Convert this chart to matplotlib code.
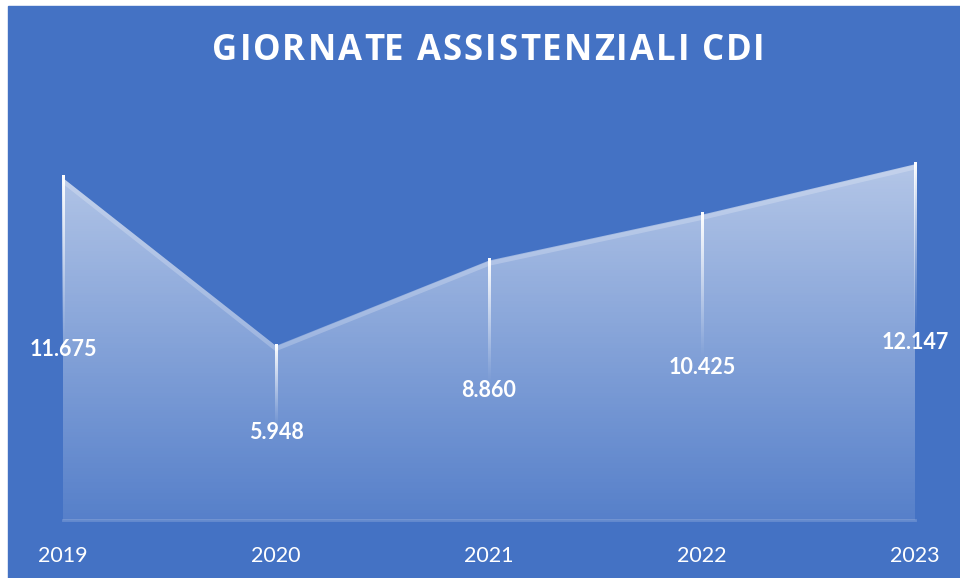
import numpy as np
import matplotlib
matplotlib.use("Agg")
import matplotlib.pyplot as plt
from matplotlib.patches import Rectangle, Polygon
import matplotlib.transforms as mtransforms

years = ["2019", "2020", "2021", "2022", "2023"]
values = [11675, 5948, 8860, 10425, 12147]
value_labels = ["11.675", "5.948", "8.860", "10.425", "12.147"]
title = "GIORNATE ASSISTENZIALI CDI"

BG = "#4472C4"
W, H = 960, 578
fig = plt.figure(figsize=(W / 100, H / 100), dpi=100, facecolor="white")
fig.add_artist(Rectangle((8 / W, 0), (W - 8) / W, (H - 6) / H,
                         transform=fig.transFigure, color=BG, zorder=0))

left, right = 63, 915
ytop, ybot = 110, 520
ax = fig.add_axes([left / W, (H - ybot) / H, (right - left) / W, (ybot - ytop) / H])
ax.set_facecolor("none")
ax.patch.set_alpha(0)
ymax = 14000
ax.set_xlim(0, len(years) - 1)
ax.set_ylim(0, ymax)
for s in ax.spines.values():
    s.set_visible(False)
ax.set_yticks([])
x = np.arange(len(years))
ax.set_xticks(x)
ax.set_xticklabels(years, color="white", fontsize=15.5, family="Lato")
ax.tick_params(axis="x", length=0, pad=19)

# gradient fill
vtop = max(values)
n = 400
yy = np.linspace(0, vtop, n)
alpha = 0.10 + 0.50 * (yy / vtop)
img = np.ones((n, 2, 4))
img[:, :, 3] = alpha[:, None]
poly_xy = [(0, 0)] + list(zip(x, values)) + [(x[-1], 0)]
poly = Polygon(poly_xy, closed=True, transform=ax.transData, facecolor="none", edgecolor="none")
ax.add_patch(poly)
im = ax.imshow(img, extent=(0, x[-1], 0, vtop), origin="lower", aspect="auto",
               interpolation="bilinear", zorder=1)
im.set_clip_path(poly)

# edge highlight
off = mtransforms.offset_copy(ax.transData, fig=fig, x=0, y=-3, units="dots")
ax.plot(x, values, color="white", alpha=0.22, lw=3.2, transform=off, zorder=2,
        solid_capstyle="butt")

# baseline
ax.plot([0, x[-1]], [0, 0], color="white", alpha=0.18, lw=2, zorder=2, clip_on=False)

# drop lines fading (gradient images)
px = (x[-1] - 0) / (right - left)
for xi, v in zip(x, values):
    m = 200
    t = np.linspace(0, 1, m)
    a = np.clip(t, 0, 1) ** 1.2
    lim = np.ones((m, 1, 4))
    lim[:, 0, 3] = a
    li = ax.imshow(lim, extent=(xi - 1.2 * px, xi + 1.2 * px, v * 0.52, v * 1.006),
                   origin="lower", aspect="auto", interpolation="bilinear", zorder=3)
    li.set_clip_on(False)

ax.set_xlim(0, len(years) - 1)
ax.set_ylim(0, ymax)

# data labels
for xi, v, lab in zip(x, values, value_labels):
    ax.text(xi, v / 2, lab, ha="center", va="center", color="white",
            fontsize=15.5, fontweight="bold", family="Lato", zorder=4, clip_on=False)

# title with letter spacing
renderer = fig.canvas.get_renderer()
tprops = dict(color="white", fontsize=25, fontweight="bold", family="Open Sans")

def text_w(s):
    t = fig.text(0, 0, s, **tprops)
    w = t.get_window_extent(renderer=renderer).width
    t.remove()
    return w

ref_w = text_w("X")
adv = [text_w(title[:i] + "X") - ref_w if i > 0 else 0.0 for i in range(len(title))]
nat_w = text_w(title)
target_w = 553
extra = (target_w - nat_w) / (len(title) - 1)
x0 = (left + right) / 2 - target_w / 2
ty = 1 - 51 / H
for i, ch in enumerate(title):
    if ch == " ":
        continue
    fig.text((x0 + adv[i] + i * extra) / W, ty, ch, ha="left", va="center", **tprops)

fig.savefig("out.png", dpi=100, facecolor="white")
